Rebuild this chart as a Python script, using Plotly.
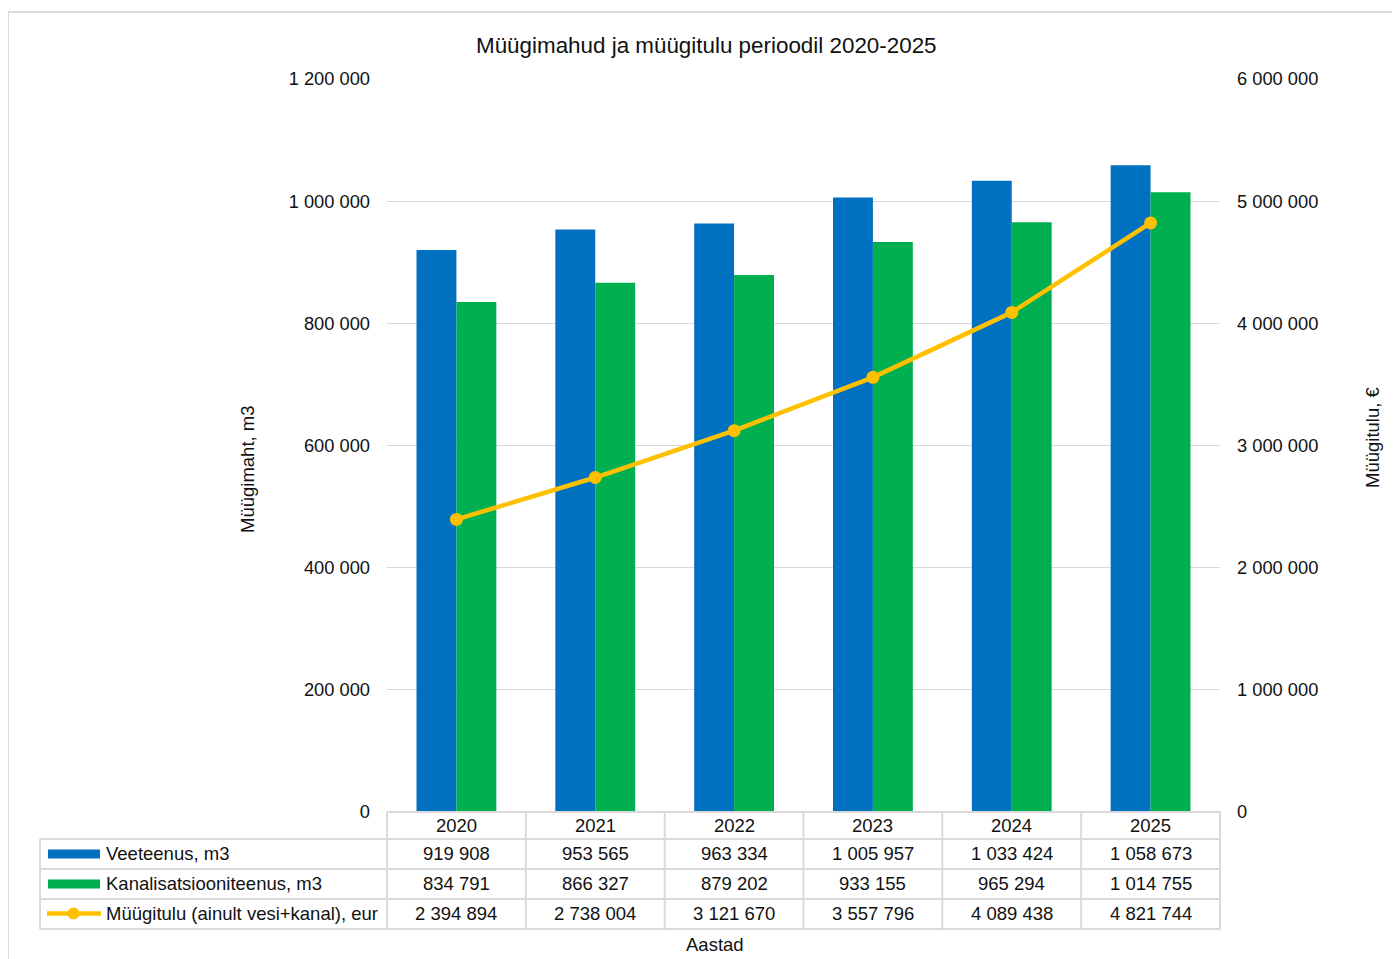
import plotly.graph_objects as go

years = ["2020", "2021", "2022", "2023", "2024", "2025"]
vesi = [919908, 953565, 963334, 1005957, 1033424, 1058673]
kanal = [834791, 866327, 879202, 933155, 965294, 1014755]
tulu = [2394894, 2738004, 3121670, 3557796, 4089438, 4821744]
names = ["Veeteenus, m3", "Kanalisatsiooniteenus, m3", "Müügitulu (ainult vesi+kanal), eur"]

BLUE = "#0070C0"
GREEN = "#00B050"
YELLOW = "#FFC000"
GRID = "#d9d9d9"
TXT = "#111111"
FONT = "Liberation Sans, Arial, sans-serif"

# page offset of the plot div inside the browser window
OX, OY = 8, 7
W, H = 1400, 959
L, R, T, B = 387, 1220, 78, 811   # reference pixel positions of plot area
PW, PH = R - L, B - T


def px(x):
    return (x - L) / PW


def py(y):
    return (B - y) / PH


def fmt(v):
    return f"{v:,}".replace(",", " ")


fig = go.Figure()
fig.add_trace(go.Bar(x=years, y=vesi, name=names[0], marker_color=BLUE, marker_line_width=0))
fig.add_trace(go.Bar(x=years, y=kanal, name=names[1], marker_color=GREEN, marker_line_width=0))
fig.add_trace(go.Scatter(x=years, y=tulu, name=names[2], yaxis="y2", mode="lines+markers",
                         line=dict(color=YELLOW, width=4.5),
                         marker=dict(color=YELLOW, size=13, symbol="circle")))

shapes = []
annotations = []

# outer border
shapes.append(dict(type="rect", xref="paper", yref="paper", x0=px(8), x1=px(1420), y0=py(11), y1=py(990),
                   line=dict(color=GRID, width=2), fillcolor="rgba(0,0,0,0)", layer="below"))

# table grid
rows_y = [811, 838, 868, 898, 928]
col_x = [L + k * PW / 6 for k in range(7)]
lc = dict(color=GRID, width=2)
shapes.append(dict(type="line", xref="paper", yref="paper", x0=px(L), x1=px(R), y0=py(811), y1=py(811), line=lc))
for yy in rows_y[1:]:
    shapes.append(dict(type="line", xref="paper", yref="paper", x0=px(40), x1=px(R), y0=py(yy), y1=py(yy), line=lc))
for xx in col_x:
    shapes.append(dict(type="line", xref="paper", yref="paper", x0=px(xx), x1=px(xx), y0=py(811), y1=py(928), line=lc))
shapes.append(dict(type="line", xref="paper", yref="paper", x0=px(40), x1=px(40), y0=py(838), y1=py(928), line=lc))

TF = 18.5
# header years (category index positions on the x axis)
for i, yr in enumerate(years):
    annotations.append(dict(x=i, xref="x", y=py(824), yref="paper", text=yr, showarrow=False,
                            font=dict(size=TF, color=TXT, family=FONT), xanchor="center", yanchor="middle"))

series = [vesi, kanal, tulu]
row_centers = [852.5, 882.5, 912]
for vals, yc in zip(series, row_centers):
    for i, v in enumerate(vals):
        annotations.append(dict(x=i, xref="x", y=py(yc), yref="paper", text=fmt(v), showarrow=False,
                                font=dict(size=TF, color=TXT, family=FONT), xanchor="center", yanchor="middle"))

# legend keys in table
for nm, yc in zip(names, row_centers):
    annotations.append(dict(x=px(104), xref="paper", y=py(yc), yref="paper", text=nm, showarrow=False,
                            font=dict(size=TF, color=TXT, family=FONT), xanchor="left", yanchor="middle"))
shapes.append(dict(type="rect", xref="paper", yref="paper", x0=px(48), x1=px(100), y0=py(857.5), y1=py(848.5),
                   fillcolor=BLUE, line=dict(width=0)))
shapes.append(dict(type="rect", xref="paper", yref="paper", x0=px(48), x1=px(100), y0=py(887.5), y1=py(878.5),
                   fillcolor=GREEN, line=dict(width=0)))
shapes.append(dict(type="line", xref="paper", yref="paper", x0=px(47), x1=px(101), y0=py(912.5), y1=py(912.5),
                   line=dict(color=YELLOW, width=4.5)))
shapes.append(dict(type="circle", xref="paper", yref="paper", x0=px(67.5), x1=px(79.5), y0=py(918.5), y1=py(906.5),
                   fillcolor=YELLOW, line=dict(width=0)))

# titles
annotations.append(dict(x=px(706), xref="paper", y=py(44), yref="paper", text="Müügimahud ja müügitulu perioodil 2020-2025",
                        showarrow=False, font=dict(size=22.4, color=TXT, family=FONT), xanchor="center", yanchor="middle"))
annotations.append(dict(x=px(715), xref="paper", y=py(943), yref="paper", text="Aastad",
                        showarrow=False, font=dict(size=TF, color=TXT, family=FONT), xanchor="center", yanchor="middle"))
annotations.append(dict(x=px(247), xref="paper", y=py(468), yref="paper", text="Müügimaht, m3", textangle=-90,
                        showarrow=False, font=dict(size=18.5, color=TXT, family=FONT), xanchor="center", yanchor="middle"))
annotations.append(dict(x=px(1373), xref="paper", y=py(437), yref="paper", text="Müügitulu, €", textangle=-90,
                        showarrow=False, font=dict(size=18.5, color=TXT, family=FONT), xanchor="center", yanchor="middle"))

fig.update_layout(
    width=W, height=H,
    margin=dict(l=L - OX, r=W - (R - OX), t=T - OY, b=H - (B - OY), pad=0),
    paper_bgcolor="white", plot_bgcolor="white",
    separators=", ",
    barmode="group", bargap=0.425, bargroupgap=0,
    showlegend=False,
    font=dict(family=FONT, size=18, color=TXT),
    xaxis=dict(type="category", range=[-0.5, 5.5], showticklabels=False, showgrid=False, zeroline=False,
               showline=False, ticks=""),
    yaxis=dict(range=[0, 1200000], dtick=200000, tickformat=",d", showgrid=True, gridcolor=GRID, gridwidth=1,
               zeroline=False, showline=False, ticks="", ticklabelstandoff=16,
               tickfont=dict(size=18.3, color=TXT, family=FONT)),
    yaxis2=dict(range=[0, 6000000], dtick=1000000, tickformat=",d", overlaying="y", side="right", showgrid=False,
                zeroline=False, showline=False, ticks="", ticklabelstandoff=16,
                tickfont=dict(size=18.3, color=TXT, family=FONT)),
    shapes=shapes,
    annotations=annotations,
)

fig.write_html("out.html")
